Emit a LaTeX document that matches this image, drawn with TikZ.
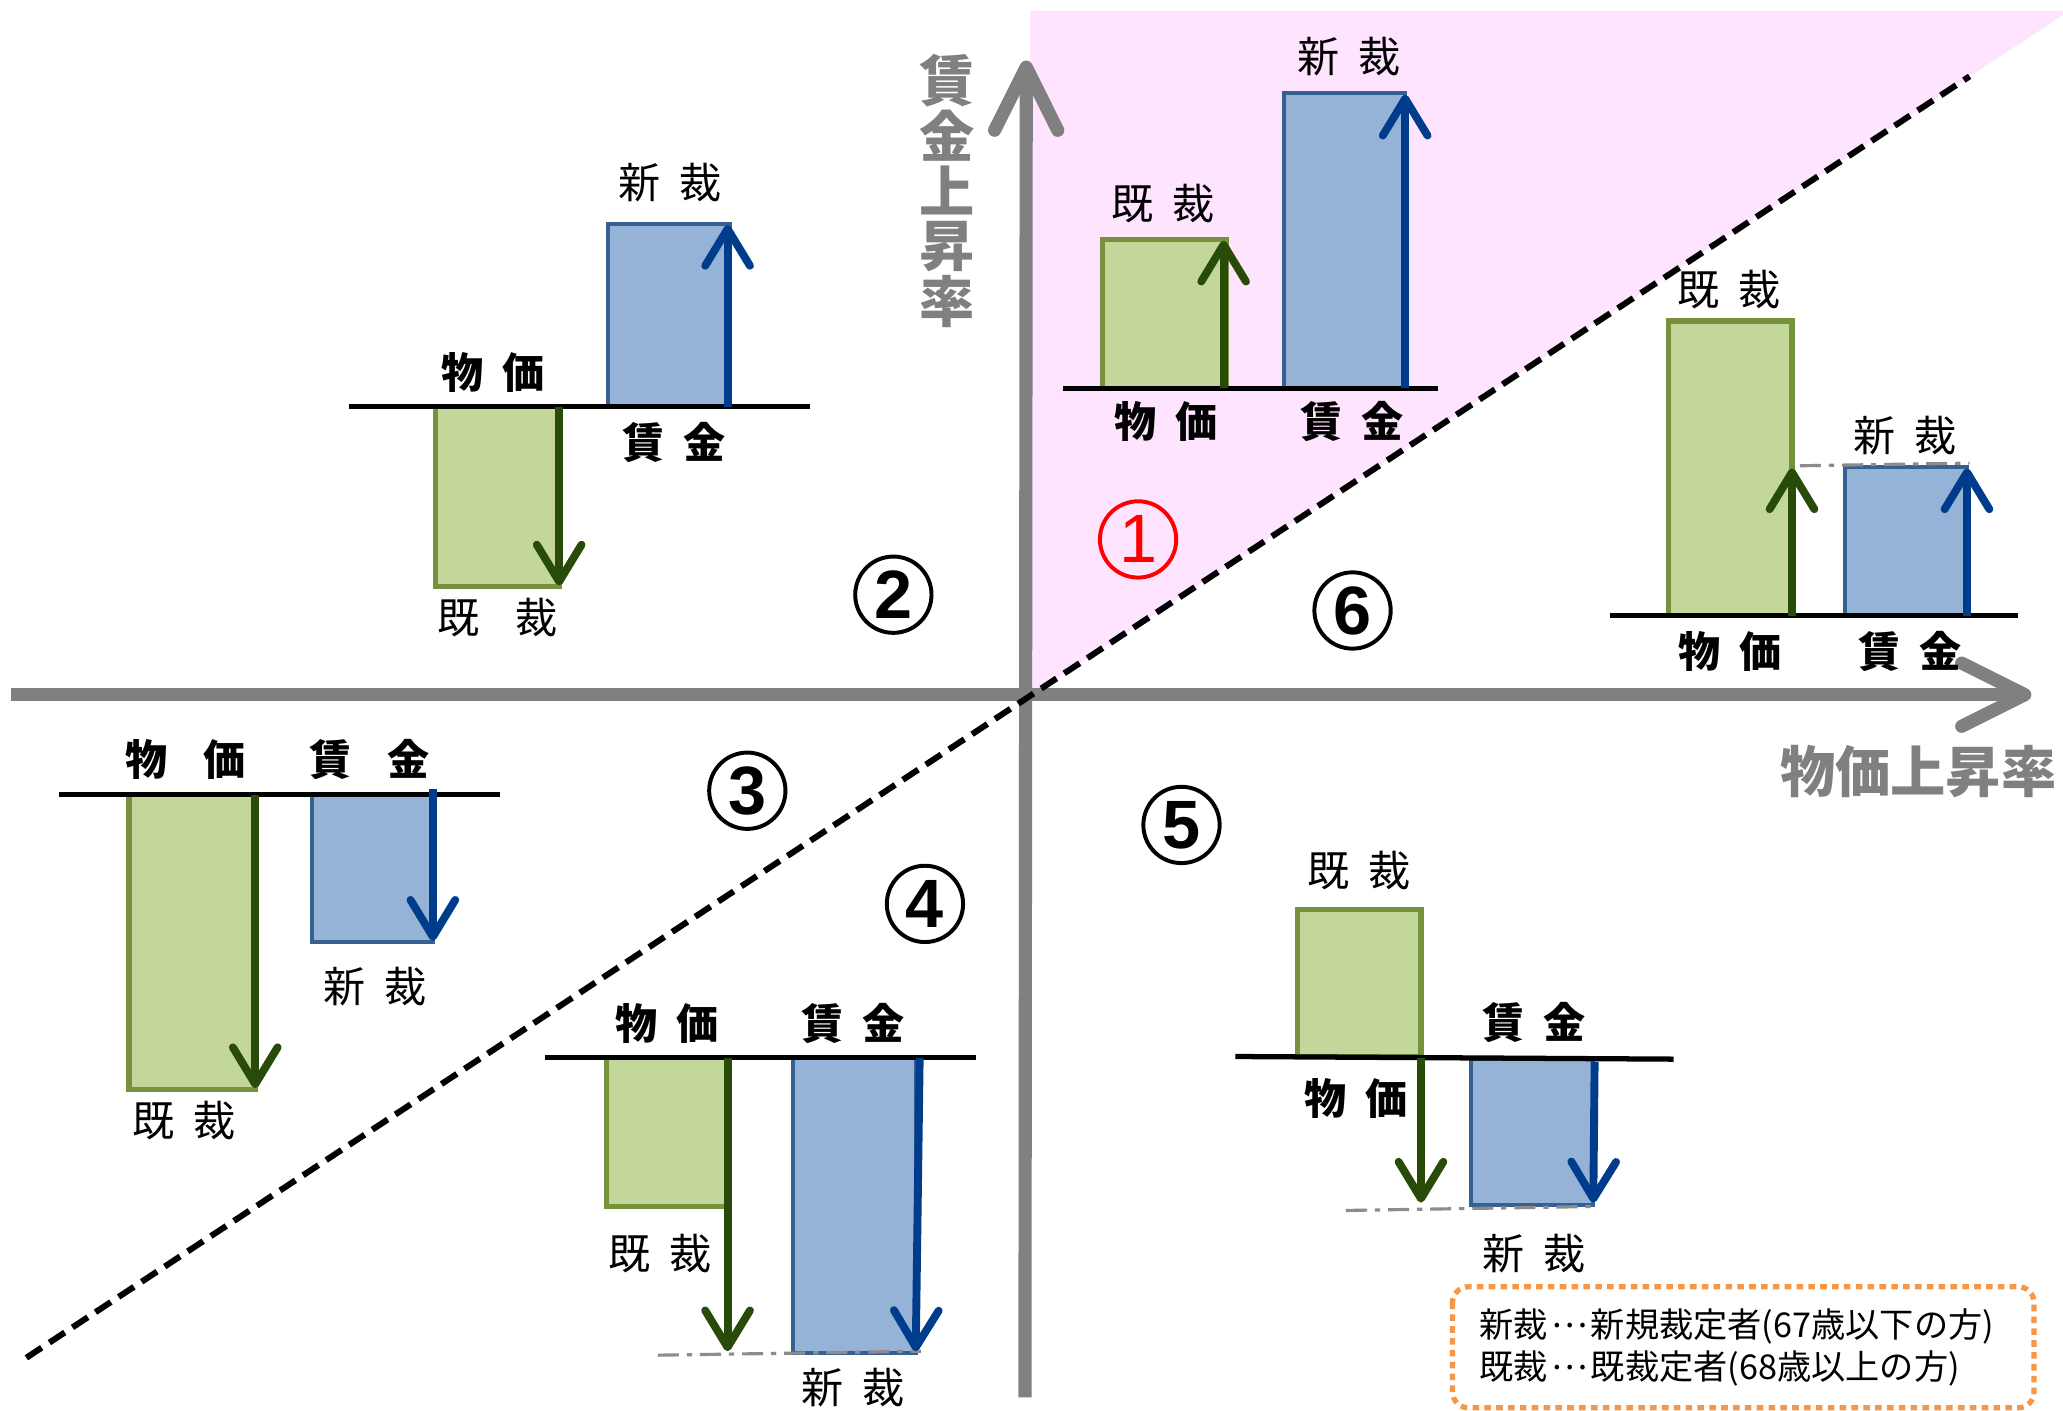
\documentclass[tikz,border=0pt]{standalone}
\usepackage{fontspec}
\setmainfont{Liberation Sans}
\newfontfamily\cjk{Noto Sans CJK JP}
\usetikzlibrary{arrows.meta}
\definecolor{gfill}{RGB}{196,215,155}
\definecolor{gedge}{RGB}{118,146,60}
\definecolor{garrowc}{RGB}{40,75,10}
\definecolor{bfill}{RGB}{149,179,215}
\definecolor{bedge}{RGB}{55,96,146}
\definecolor{barrowc}{RGB}{0,60,140}
\definecolor{pinkbg}{RGB}{255,228,255}
\definecolor{axgray}{RGB}{128,128,128}
\definecolor{ddgray}{RGB}{140,140,140}
\definecolor{legor}{RGB}{247,150,70}
\newcommand\jg{\hspace{0.45em}}
\newcommand\jG{\hspace{0.85em}}
\newcommand\mdots{\hspace{0.1em}\raisebox{0.3em}{…}\hspace{0.1em}}
\begin{document}
\begin{tikzpicture}[x=0.5pt,y=-0.5pt,
 lab/.style={font=\cjk\fontsize{16}{16}\selectfont, inner sep=0},
 blab/.style={font=\cjk\bfseries\fontsize{16}{16}\selectfont, inner sep=0},
 axlab/.style={font=\cjk\bfseries\fontsize{21}{21}\selectfont, text=axgray, inner sep=0},
 gbox/.style={fill=gfill, draw=gedge, line width=2pt},
 bbox/.style={fill=bfill, draw=bedge, line width=1.5pt},
 garr/.style={draw=garrowc, line width=3pt, -{Straight Barb[length=14pt,width=17pt,round]}},
 barr/.style={draw=barrowc, line width=3pt, -{Straight Barb[length=14pt,width=17pt,round]}},
 baseln/.style={draw=black, line width=2pt},
 ddline/.style={draw=ddgray, line width=1.2pt, dash pattern=on 8pt off 3pt on 2pt off 3pt},
 axisln/.style={draw=axgray, line width=5pt, -{Straight Barb[length=24pt,width=24pt,round]}},
 cnum/.style={circle, draw, line width=1.5pt, minimum size=29pt, inner sep=0, font=\bfseries\fontsize{26}{26}\selectfont},
 legtext/.style={font=\cjk\fontsize{13}{13}\selectfont, anchor=west, inner sep=0},
]
\useasboundingbox (0,0) rectangle (1568,1072);
\fill[white] (0,0) rectangle (1568,1072);
% pink region
\fill[pinkbg] (783,8) -- (1568,8) -- (1568,11.4) -- (783,529) -- cycle;
% axes
\coordinate (vb) at (779,1062);
\coordinate (vt) at (780,46);
\coordinate (hl) at (8,528);
\coordinate (hr) at (1544,528);
\draw[axisln] (vb) -- (vt);
\draw[axisln] (hl) -- (hr);
% dashed diagonal
\coordinate (dl) at (20,1032);
\coordinate (du) at (1497,58);
\draw[black, line width=2.3pt, dash pattern=on 7pt off 3.5pt] (dl) -- (du);
% axis labels
\node[axlab] (y1) at (720,61) {賃};
\node[axlab] (y2) at (720,103) {金};
\node[axlab] (y3) at (720,145) {上};
\node[axlab] (y4) at (720,187) {昇};
\node[axlab] (y5) at (720,229) {率};
\node[axlab] (xlab) at (1458,586) {物価上昇率};
% circled numbers
\node[cnum, draw=red, text=red, font=\fontsize{26}{26}\selectfont] (n1) at (865,410) {1};
\node[cnum] (n2) at (679,452) {2};
\node[cnum] (n3) at (568,601) {3};
\node[cnum] (n4) at (703,687) {4};
\node[cnum] (n5) at (898,627) {5};
\node[cnum] (n6) at (1028,464) {6};

% ---- panel 1
\draw[gbox] (838,182) rectangle (932,295);
\draw[bbox] (976,71) rectangle (1068,295);
\draw[baseln] (808,295) -- (1093,295);
\draw[garr] (930,295) -- (930,183);
\draw[barr] (1068,295) -- (1068,72);
\node[lab] (p1a) at (884,155) {既\jg 裁};
\node[lab] (p1b) at (1025,43) {新\jg 裁};
\node[blab] (p1c) at (886,320) {物\jg 価};
\node[blab] (p1d) at (1028,320) {賃\jg 金};

% ---- panel 2
\draw[bbox] (462,170) rectangle (555,309);
\draw[gbox] (331,309) rectangle (425,446);
\draw[baseln] (265,309) -- (616,309);
\draw[barr] (553,309) -- (553,171);
\draw[garr] (425,309) -- (425,445);
\node[lab] (p2a) at (509,139) {新\jg 裁};
\node[blab] (p2b) at (375,283) {物\jg 価};
\node[blab] (p2c) at (512,336) {賃\jg 金};
\node[lab] (p2d) at (378,469) {既\jG 裁};

% ---- panel 3
\draw[gbox] (98,604) rectangle (194,828);
\draw[bbox] (237,604) rectangle (329,716);
\draw[baseln] (45,604) -- (380,604);
\draw[garr] (194,604) -- (194,827);
\draw[barr] (329,600) -- (329,715);
\node[blab] (p3a) at (141,577) {物\jG 価};
\node[blab] (p3b) at (281,577) {賃\jG 金};
\node[lab] (p3c) at (285,750) {新\jg 裁};
\node[lab] (p3d) at (140,852) {既\jg 裁};

% ---- panel 4
\draw[gbox] (461,804) rectangle (552,917);
\draw[bbox] (603,804) rectangle (696,1028);
\draw[baseln] (414,804) -- (742,804);
\draw[ddline] (500,1030) -- (700,1027);
\draw[garr] (553,804) -- (553,1027);
\draw[barr] (699,804) -- (696,1027);
\node[blab] (p4a) at (507,778) {物\jg 価};
\node[blab] (p4b) at (648,778) {賃\jg 金};
\node[lab] (p4c) at (502,953) {既\jg 裁};
\node[lab] (p4d) at (648,1055) {新\jg 裁};

% ---- panel 5
\draw[gbox] (986,691) rectangle (1080,803);
\draw[bbox] (1118,805) rectangle (1211,916);
\draw[baseln] (939,803) -- (1272,805);
\draw[ddline] (1023,920) -- (1211,917);
\draw[garr] (1080,804) -- (1080,914);
\draw[barr] (1212,807) -- (1211,914);
\node[lab] (p5a) at (1033,662) {既\jg 裁};
\node[blab] (p5b) at (1166,777) {賃\jg 金};
\node[blab] (p5c) at (1031,835) {物\jg 価};
\node[lab] (p5d) at (1166,953) {新\jg 裁};

% ---- panel 6
\draw[gbox] (1268,244) rectangle (1362,468);
\draw[bbox] (1402,355) rectangle (1495,468);
\draw[ddline] (1368,354) -- (1497,352);
\draw[baseln] (1224,468) -- (1534,468);
\draw[garr] (1362,468) -- (1362,356);
\draw[barr] (1495,468) -- (1495,356);
\node[lab] (p6a) at (1314,220) {既\jg 裁};
\node[lab] (p6b) at (1448,331) {新\jg 裁};
\node[blab] (p6c) at (1315,495) {物\jg 価};
\node[blab] (p6d) at (1452,495) {賃\jg 金};

% ---- legend
\draw[draw=legor, line width=2pt, dash pattern=on 2.5pt off 2pt, rounded corners=6pt] (1104,978) rectangle (1546,1070);
\node[legtext] (lg1) at (1124,1008) {新裁\mdots 新規裁定者(67歳以下の方)};
\node[legtext] (lg2) at (1124,1040) {既裁\mdots 既裁定者(68歳以上の方)};
\end{tikzpicture}
\end{document}
